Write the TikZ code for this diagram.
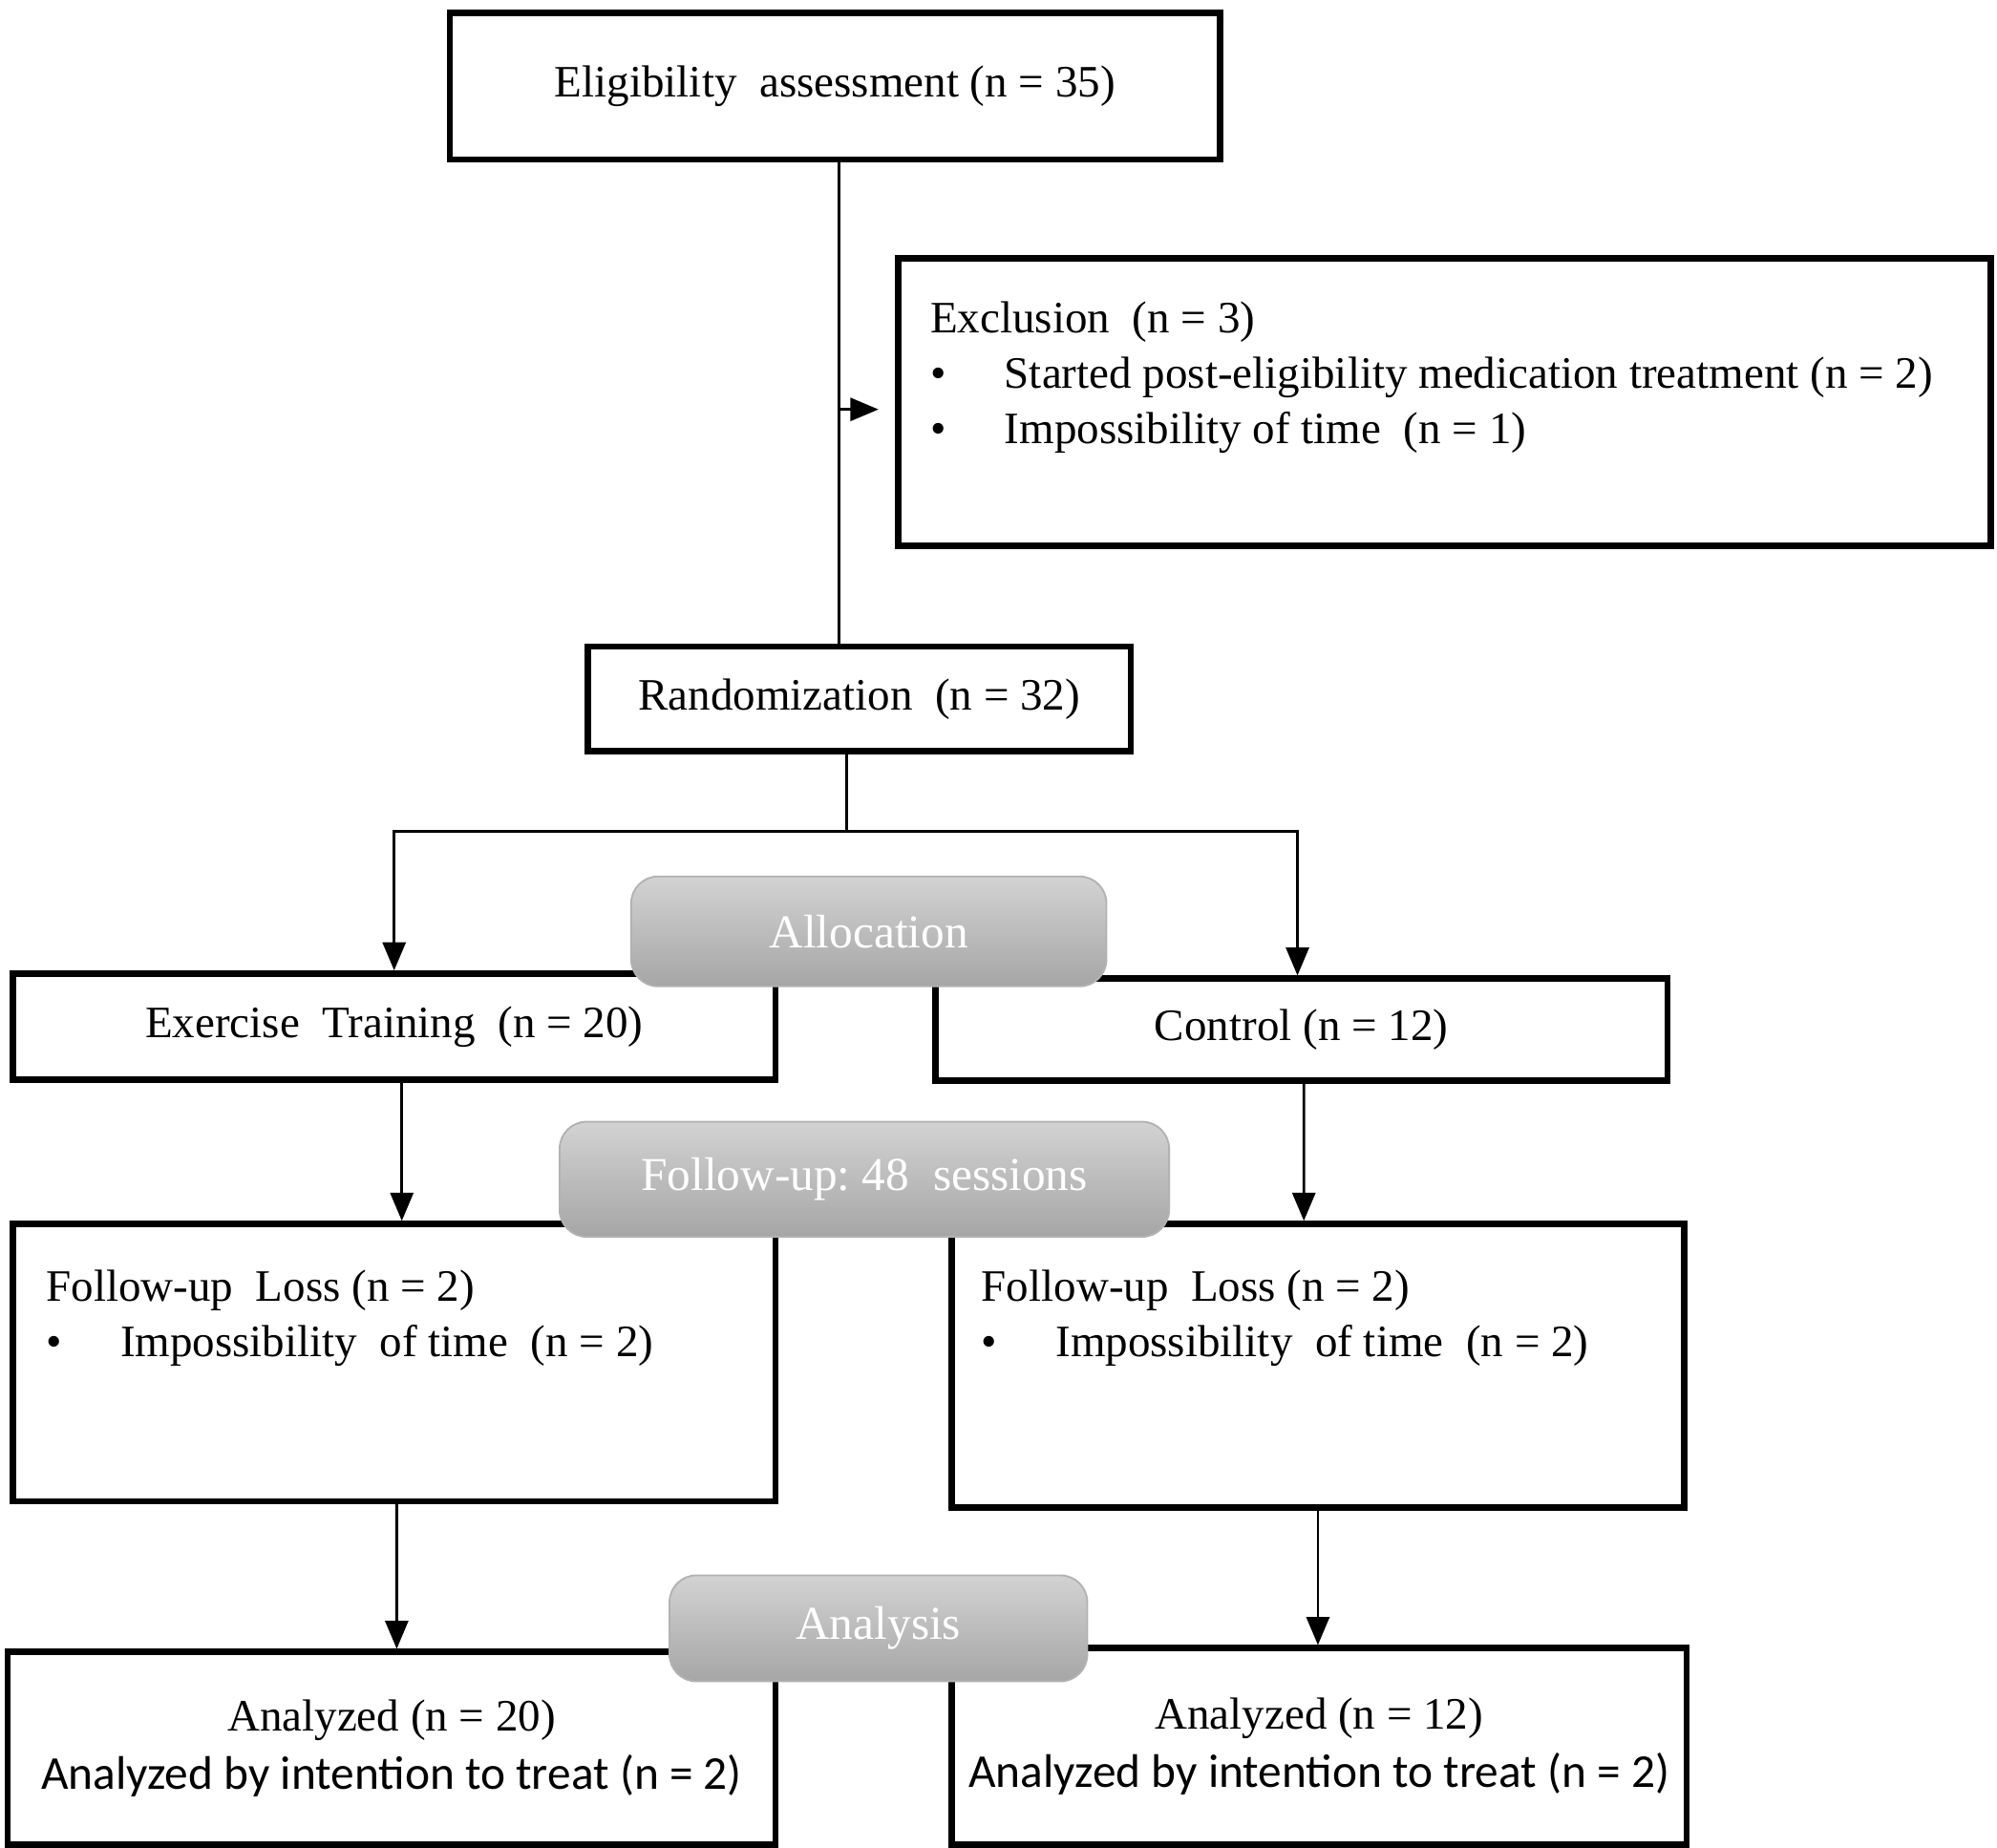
\documentclass[tikz,border=0pt]{standalone}
\usepackage{fontspec}
\setmainfont{Liberation Serif}
\newfontfamily\carlito{Carlito}
\usetikzlibrary{arrows.meta,positioning,calc}
\tikzset{
  box/.style={draw,line width=1.4pt,fill=white,inner sep=0pt},
  stage/.style={rounded corners=6pt,top color=gray!35,bottom color=gray!70,draw=gray!60,text=white,font=\fontsize{10.5}{12}\selectfont,inner sep=0pt},
  txt/.style={font=\fontsize{10}{12.3}\selectfont,align=left,inner sep=0pt},
  flow/.style={-{Triangle[length=2.2mm,width=1.8mm]},line width=0.6pt}
}
\begin{document}
\begin{tikzpicture}
\useasboundingbox (0,0) rectangle (15.63,14.46);
% boxes
\node[box,minimum width=6.03cm,minimum height=1.15cm,font=\fontsize{10}{12}\selectfont] (elig) at (6.535,13.785) {Eligibility\ \ assessment (n = 35)};
\node[box,minimum width=8.55cm,minimum height=2.25cm] (excl) at (11.305,11.315) {};
\node[txt,anchor=north west] (excltxt) at ($(excl.north west)+(0.27,-0.36)$)
  {Exclusion\ \ (n = 3)\\
   \textbullet\hspace{1.3em}Started post-eligibility\ medication treatment (n = 2)\\
   \textbullet\hspace{1.3em}Impossibility\ of time\ \ (n = 1)};
\node[box,minimum width=4.25cm,minimum height=0.82cm,font=\fontsize{10}{12}\selectfont] (rand) at (6.725,8.99) {Randomization\ \ (n = 32)};
\node[box,minimum width=5.97cm,minimum height=0.83cm,font=\fontsize{10}{12}\selectfont] (exer) at (3.085,6.425) {Exercise\ \ Training\ \ (n = 20)};
\node[box,minimum width=5.73cm,minimum height=0.80cm,font=\fontsize{10}{12}\selectfont] (ctrl) at (10.185,6.40) {Control (n = 12)};
\node[box,minimum width=5.97cm,minimum height=2.17cm] (lossL) at (3.085,3.795) {};
\node[txt,anchor=north west] (lossLtxt) at ($(lossL.north west)+(0.28,-0.38)$)
  {Follow-up\ \ Loss (n = 2)\\
   \textbullet\hspace{1.3em}Impossibility\ \ of time\ \ (n = 2)};
\node[box,minimum width=5.73cm,minimum height=2.22cm] (lossR) at (10.315,3.77) {};
\node[txt,anchor=north west] (lossRtxt) at ($(lossR.north west)+(0.25,-0.38)$)
  {Follow-up\ \ Loss (n = 2)\\
   \textbullet\hspace{1.3em}Impossibility\ \ of time\ \ (n = 2)};
\node[box,minimum width=6.01cm,minimum height=1.51cm,align=center,font=\fontsize{10}{12}\selectfont] (anL) at (3.065,0.775)
  {Analyzed (n = 20)\\[1pt]{\carlito\fontsize{10.5}{12}\selectfont Analyzed by intention to treat (n = 2)}};
\node[box,minimum width=5.75cm,minimum height=1.54cm,align=center,font=\fontsize{10}{12}\selectfont] (anR) at (10.325,0.79)
  {Analyzed (n = 12)\\[1pt]{\carlito\fontsize{10.5}{12}\selectfont Analyzed by intention to treat (n = 2)}};
% stage labels
\node[stage,minimum width=3.72cm,minimum height=0.86cm] (alloc) at (6.80,7.17) {Allocation};
\node[stage,minimum width=4.77cm,minimum height=0.90cm] (fup) at (6.765,5.23) {Follow-up:\ 48\ \ sessions};
\node[stage,minimum width=3.27cm,minimum height=0.83cm] (anal) at (6.875,1.715) {Analysis};
% connectors
\coordinate (trunk) at ($(elig.south)+(0.03,0)$);
\draw[line width=0.6pt] (trunk) -- (trunk |- rand.north);
\coordinate (exclfrom) at ($(trunk)+(0,-1.93)$);
\coordinate (exclto) at ($(excl.west |- exclfrom)+(-0.13,0)$);
\draw[flow] (exclfrom) -- (exclto);
\coordinate (split) at ($(rand.south)+(-0.1,-0.6)$);
\draw[line width=0.6pt] (rand.south -| split) -- (split);
\draw[flow] (split) -| (exer.north);
\draw[flow] (split) -| ($(ctrl.north)+(-0.03,0)$);
\draw[flow] ($(exer.south)+(0.06,0)$) -- ($(lossL.north)+(0.06,0)$);
\draw[flow] ($(ctrl.south)+(0.02,0)$) -- ($(lossR.north)+(-0.11,0)$);
\draw[flow] ($(lossL.south)+(0.02,0)$) -- ($(anL.north)+(0.04,0)$);
\draw[flow] ($(lossR.south)+(0.0,0)$) -- ($(anR.north)+(-0.01,0)$);
\end{tikzpicture}
\end{document}
